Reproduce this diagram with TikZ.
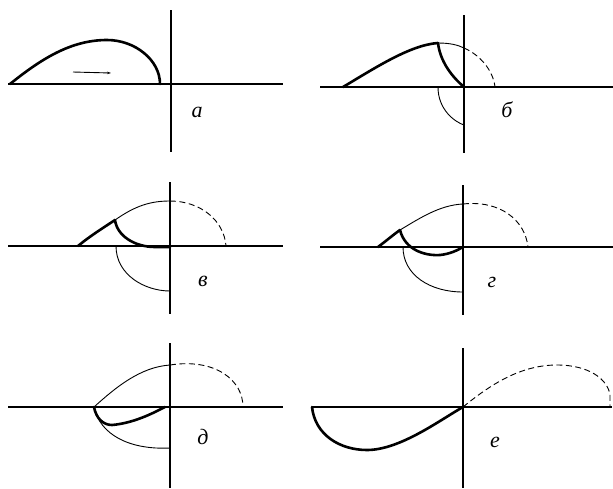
\documentclass[tikz,border=0pt]{standalone}
\usepackage{fontspec}
\setmainfont{Liberation Serif}
\usetikzlibrary{arrows.meta}
\begin{document}
\begin{tikzpicture}[x=1pt,y=-1pt,
  axis/.style={line width=1.1pt},
  thin/.style={line width=0.9pt},
  thick curve/.style={line width=2.6pt, line cap=round},
  dash curve/.style={line width=0.9pt, dash pattern=on 6pt off 3.5pt},
  lbl/.style={font=\fontsize{22}{24}\selectfont\itshape, inner sep=0pt}]
\useasboundingbox (0,0) rectangle (613,488);
% ---- panel a
\draw[axis] (8,84) -- (283,84);
\draw[axis] (171,10) -- (171,152);
\draw[thick curve] (10,84) .. controls (40,60) and (70,40) .. (107,40) .. controls (135,40) and (160,60) .. (160,84);
\draw[thin,-{Stealth[length=4pt,width=2.5pt]}] (73,72) -- (111,73);
\node[lbl] (la) at (197,112) {а};
% ---- panel b
\draw[axis] (320,87) -- (613,87);
\draw[axis] (464,15) -- (464,153);
\draw[thick curve] (343,87) .. controls (375,68) and (410,45) .. (438,43);
\draw[thin] (438,43) .. controls (450,43) and (458,45) .. (464,48);
\draw[dash curve] (464,48) .. controls (480,55) and (493,70) .. (495,87);
\draw[thick curve] (438,43) .. controls (440,60) and (450,75) .. (464,87);
\draw[thin] (438,87) .. controls (438,110) and (455,122) .. (464,125);
\node[lbl] (lb) at (507,110) {б};
% ---- panel v
\draw[axis] (8,246) -- (283,246);
\draw[axis] (170,182) -- (170,314);
\draw[thick curve] (78,246) .. controls (90,236) and (103,228) .. (115,220);
\draw[thin] (115,220) .. controls (135,206) and (150,201) .. (170,201);
\draw[dash curve] (170,201) .. controls (200,201) and (224,220) .. (226,246);
\draw[thick curve] (115,220) .. controls (117,236) and (135,247) .. (155,247) -- (170,247);
\draw[thin] (116,246) .. controls (116,275) and (145,291) .. (170,291);
\node[lbl] (lv) at (203,281) {в};
% ---- panel g
\draw[axis] (320,247) -- (613,247);
\draw[axis] (463,185) -- (463,315);
\draw[thick curve] (378,247) .. controls (386,241) and (393,235) .. (400,230);
\draw[thin] (400,230) .. controls (420,218) and (440,205) .. (463,204);
\draw[dash curve] (463,204) .. controls (500,200) and (525,220) .. (528,247);
\draw[thick curve] (400,230) .. controls (405,250) and (425,256) .. (440,255) .. controls (450,254) and (458,250) .. (463,247);
\draw[thin] (403,247) .. controls (403,275) and (430,292) .. (463,292);
\node[lbl] (lg) at (492,282) {г};
% ---- panel d
\draw[axis] (8,407) -- (283,407);
\draw[axis] (170,343) -- (170,488);
\draw[thin] (94,407) .. controls (115,388) and (140,367) .. (170,365);
\draw[dash curve] (170,365) .. controls (215,358) and (243,380) .. (243,407);
\draw[thick curve] (94,407) .. controls (96,418) and (103,425) .. (112,425) .. controls (135,423) and (155,412) .. (165,407);
\draw[thin] (94,407) .. controls (100,435) and (130,450) .. (170,448);
\node[lbl] (ld) at (203,437) {д};
% ---- panel e
\draw[axis] (312,407) -- (612,407);
\draw[axis] (463,348) -- (463,488);
\draw[thick curve] (312,407) .. controls (315,435) and (340,450) .. (367,450) .. controls (400,450) and (440,420) .. (463,407);
\draw[dash curve] (463,407) .. controls (490,385) and (520,365) .. (557,365) .. controls (590,365) and (608,380) .. (610,395) -- (610,407);
\node[lbl] (le) at (495,442) {е};
\end{tikzpicture}
\end{document}
